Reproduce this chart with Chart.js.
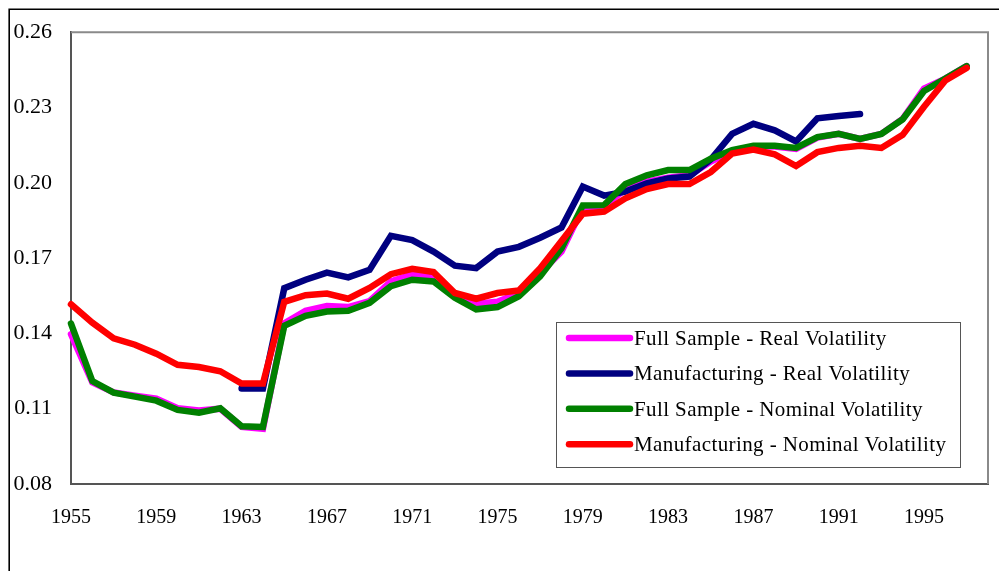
<!DOCTYPE html>
<html>
<head>
<meta charset="utf-8">
<script src="https://cdn.jsdelivr.net/npm/chart.js@4.4.1/dist/chart.umd.min.js"></script>
<style>
  html, body { margin: 0; padding: 0; background: #fff; }
  canvas { display: block; }
</style>
</head>
<body>
<canvas id="c" width="999" height="571"></canvas>
<script>
const years = [];
for (let y = 1955; y <= 1997; y++) years.push(y);

const xTicks = [1955, 1959, 1963, 1967, 1971, 1975, 1979, 1983, 1987, 1991, 1995];
const yTicks = [0.08, 0.11, 0.14, 0.17, 0.20, 0.23, 0.26];

const seriesNames = [
  'Full Sample - Real Volatility',
  'Manufacturing - Real Volatility',
  'Full Sample - Nominal Volatility',
  'Manufacturing - Nominal Volatility'
];

const fullReal = [
  0.1397, 0.1205, 0.1165, 0.1152, 0.1140, 0.1102, 0.1093, 0.1100, 0.1028, 0.1020,
  0.1440, 0.1490, 0.1509, 0.1505, 0.1529, 0.1607, 0.1634, 0.1623, 0.1555, 0.1518,
  0.1526, 0.1561, 0.1640, 0.1726, 0.1900, 0.1905, 0.1975, 0.2005, 0.2020, 0.2030,
  0.2085, 0.2125, 0.2145, 0.2145, 0.2135, 0.2180, 0.2195, 0.2175, 0.2195, 0.2255,
  0.2375, 0.2415, 0.2465
];

const manufReal = [
  null, null, null, null, null, null, null, null, 0.1180, 0.1180,
  0.1580, 0.1614, 0.1642, 0.1623, 0.1653, 0.1789, 0.1772, 0.1726, 0.1670, 0.1660,
  0.1726, 0.1745, 0.1781, 0.1822, 0.1985, 0.1949, 0.1965, 0.1998, 0.2017, 0.2025,
  0.2093, 0.2195, 0.2235, 0.2209, 0.2165, 0.2257, 0.2266, 0.2274, null, null,
  null, null, null
];

const fullNominal = [
  0.1439, 0.1210, 0.1164, 0.1148, 0.1132, 0.1095, 0.1084, 0.1102, 0.1030, 0.1027,
  0.1430, 0.1470, 0.1487, 0.1490, 0.1522, 0.1588, 0.1614, 0.1607, 0.1542, 0.1496,
  0.1505, 0.1548, 0.1627, 0.1739, 0.1910, 0.1911, 0.1995, 0.2030, 0.2051, 0.2051,
  0.2096, 0.2130, 0.2148, 0.2148, 0.2139, 0.2182, 0.2195, 0.2175, 0.2195, 0.2253,
  0.2366, 0.2415, 0.2465
];

const manufNominal = [
  0.1516, 0.1443, 0.1380, 0.1355, 0.1319, 0.1275, 0.1266, 0.1249, 0.1200, 0.1200,
  0.1526, 0.1552, 0.1559, 0.1538, 0.1581, 0.1636, 0.1657, 0.1644, 0.1561, 0.1538,
  0.1561, 0.1571, 0.1660, 0.1768, 0.1877, 0.1885, 0.1938, 0.1975, 0.1995, 0.1995,
  0.2043, 0.2117, 0.2132, 0.2113, 0.2067, 0.2122, 0.2139, 0.2148, 0.2139, 0.2191,
  0.2303, 0.2408, 0.2458
];

const colors = ['#FF00FF', '#000080', '#008000', '#FF0000'];
const allSeries = [fullReal, manufReal, fullNominal, manufNominal];
const drawOrder = [4, 3, 2, 1];

const toPoints = arr => years.map((yr, i) => ({ x: yr, y: arr[i] }));

const FONT = '"Liberation Serif", "Times New Roman", serif';

const framePlugin = {
  id: 'frame',
  beforeDraw(chart) {
    const ctx = chart.ctx;
    ctx.save();
    ctx.fillStyle = '#fff';
    ctx.fillRect(0, 0, chart.width, chart.height);
    ctx.strokeStyle = '#000';
    ctx.lineWidth = 1.6;
    ctx.beginPath();
    ctx.moveTo(9.2, chart.height);
    ctx.lineTo(9.2, 9.2);
    ctx.lineTo(chart.width, 9.2);
    ctx.stroke();
    ctx.restore();
  },
  afterDraw(chart) {
    const ctx = chart.ctx;
    const a = chart.chartArea;
    ctx.save();
    ctx.strokeStyle = '#8a8a8a';
    ctx.lineWidth = 2;
    ctx.beginPath();
    ctx.moveTo(a.left, a.top);
    ctx.lineTo(a.right, a.top);
    ctx.lineTo(a.right, a.bottom);
    ctx.stroke();

    // legend box
    const bx = 556.5, by = 322.5, bw = 404, bh = 145;
    ctx.fillStyle = '#fff';
    ctx.fillRect(bx, by, bw, bh);
    ctx.strokeStyle = '#555';
    ctx.lineWidth = 1;
    ctx.strokeRect(bx, by, bw, bh);
    ctx.font = '21px ' + FONT;
    if ('letterSpacing' in ctx) ctx.letterSpacing = '0.4px';
    ctx.textBaseline = 'alphabetic';
    ctx.textAlign = 'left';
    chart.data.datasets.forEach((ds, i) => {
      const ry = 338 + i * 35.4;
      ctx.strokeStyle = ds.borderColor;
      ctx.lineWidth = 6.5;
      ctx.lineCap = 'round';
      ctx.beginPath();
      ctx.moveTo(569, ry);
      ctx.lineTo(630, ry);
      ctx.stroke();
      ctx.fillStyle = '#000';
      ctx.fillText(ds.label, 634, ry + 7);
    });
    ctx.restore();
  }
};

new Chart(document.getElementById('c'), {
  type: 'line',
  data: {
    datasets: allSeries.map((arr, i) => ({
      label: seriesNames[i],
      data: toPoints(arr),
      borderColor: colors[i],
      backgroundColor: colors[i],
      borderWidth: 6.5,
      pointRadius: 0,
      borderCapStyle: 'round',
      borderJoinStyle: 'miter',
      tension: 0,
      spanGaps: false,
      order: drawOrder[i],
      clip: 6
    }))
  },
  options: {
    responsive: false,
    animation: false,
    devicePixelRatio: 1,
    layout: { padding: { left: 0, top: 28, right: 11, bottom: 0 } },
    plugins: {
      legend: { display: false },
      tooltip: { enabled: false }
    },
    scales: {
      x: {
        type: 'linear',
        min: 1955,
        max: 1998,
        afterBuildTicks: s => { s.ticks = xTicks.map(v => ({ value: v })); },
        afterFit: s => { s.height = 87; },
        grid: { display: false, drawTicks: false },
        border: { display: true, color: '#555', width: 2 },
        ticks: {
          color: '#000',
          font: { family: FONT, size: 20 },
          padding: 22,
          maxRotation: 0,
          autoSkip: false,
          callback: v => String(v)
        }
      },
      y: {
        type: 'linear',
        min: 0.08,
        max: 0.26,
        afterBuildTicks: s => { s.ticks = yTicks.map(v => ({ value: v })); },
        afterFit: s => { s.width = 71; },
        grid: { display: false, drawTicks: false },
        border: { display: true, color: '#555', width: 2 },
        ticks: {
          color: '#000',
          font: { family: FONT, size: 22 },
          padding: 19,
          autoSkip: false,
          callback: v => Number(v).toFixed(2)
        }
      }
    }
  },
  plugins: [framePlugin]
});
</script>
</body>
</html>
